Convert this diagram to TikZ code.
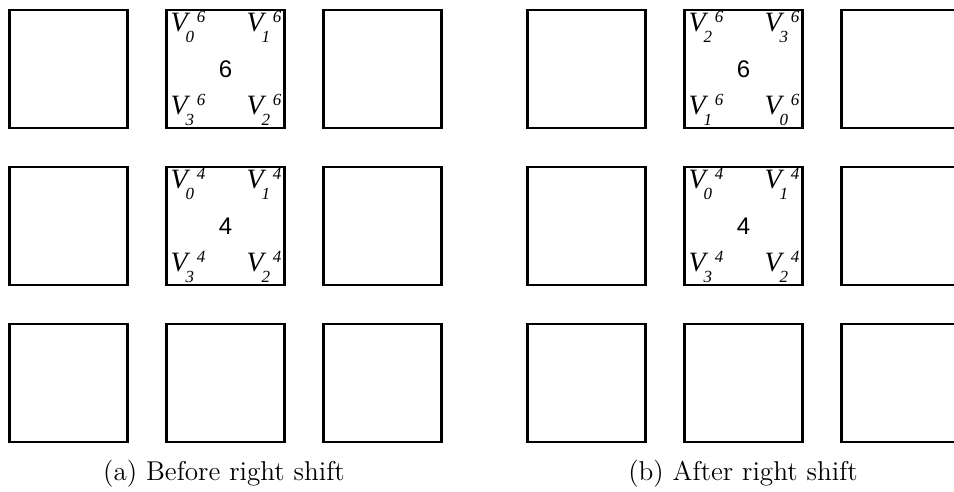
\documentclass[tikz,border=0pt]{standalone}
\usepackage{fontspec}
\newfontfamily\tnr{Liberation Serif}
\newfontfamily\hlv{Liberation Sans}
\usetikzlibrary{positioning}
% V with sub- and superscript, set in Times-like italics
\newcommand{\vidx}[2]{{\fontsize{14}{16}\tnr\itshape V}\hspace{-1pt}%
  \rlap{\raisebox{-5.2pt}{\fontsize{8.5}{10}\tnr\itshape #1}}\hspace{5.6pt}%
  \raisebox{4.8pt}{\fontsize{8.5}{10}\tnr\itshape #2}}

\begin{document}
\begin{tikzpicture}[x=0.5pt, y=-0.5pt,
  cell/.style={rectangle, draw, line width=1.3pt, minimum size=59pt, inner sep=0pt},
  vlab/.style={inner sep=0pt},
  num/.style={font=\fontsize{12}{14}\hlv, inner sep=0pt},
  captxt/.style={font=\fontsize{13.6}{16}\selectfont, anchor=base, inner sep=0pt}]
  \useasboundingbox (0,0) rectangle (954,492);
  % (a) before the shift
  \node[cell] (a1) at (68.5,69) {};
  \node[cell] (a2) at (225.5,69) {};
  \node[cell] (a3) at (382.5,69) {};
  \node[cell] (a4) at (68.5,226) {};
  \node[cell] (a5) at (225.5,226) {};
  \node[cell] (a6) at (382.5,226) {};
  \node[cell] (a7) at (68.5,383) {};
  \node[cell] (a8) at (225.5,383) {};
  \node[cell] (a9) at (382.5,383) {};
  \node[num] (a2n) at (a2.center) {6};
  \node[vlab, anchor=base west, xshift=2.5pt, yshift=-11.5pt] (a2tl) at (a2.north west) {\vidx{0}{6}};
  \node[vlab, anchor=base east, xshift=-2pt, yshift=-11.5pt] (a2tr) at (a2.north east) {\vidx{1}{6}};
  \node[vlab, anchor=base west, xshift=2.5pt, yshift=7.2pt] (a2bl) at (a2.south west) {\vidx{3}{6}};
  \node[vlab, anchor=base east, xshift=-2pt, yshift=7.2pt] (a2br) at (a2.south east) {\vidx{2}{6}};
  \node[num] (a5n) at (a5.center) {4};
  \node[vlab, anchor=base west, xshift=2.5pt, yshift=-11.5pt] (a5tl) at (a5.north west) {\vidx{0}{4}};
  \node[vlab, anchor=base east, xshift=-2pt, yshift=-11.5pt] (a5tr) at (a5.north east) {\vidx{1}{4}};
  \node[vlab, anchor=base west, xshift=2.5pt, yshift=7.2pt] (a5bl) at (a5.south west) {\vidx{3}{4}};
  \node[vlab, anchor=base east, xshift=-2pt, yshift=7.2pt] (a5br) at (a5.south east) {\vidx{2}{4}};
  \node[captxt] (capa) at (224,480) {(a) Before right shift};
  % (b) after the shift
  \node[cell] (b1) at (586.5,69) {};
  \node[cell] (b2) at (743.5,69) {};
  \node[cell] (b3) at (900.5,69) {};
  \node[cell] (b4) at (586.5,226) {};
  \node[cell] (b5) at (743.5,226) {};
  \node[cell] (b6) at (900.5,226) {};
  \node[cell] (b7) at (586.5,383) {};
  \node[cell] (b8) at (743.5,383) {};
  \node[cell] (b9) at (900.5,383) {};
  \node[num] (b2n) at (b2.center) {6};
  \node[vlab, anchor=base west, xshift=2.5pt, yshift=-11.5pt] (b2tl) at (b2.north west) {\vidx{2}{6}};
  \node[vlab, anchor=base east, xshift=-2pt, yshift=-11.5pt] (b2tr) at (b2.north east) {\vidx{3}{6}};
  \node[vlab, anchor=base west, xshift=2.5pt, yshift=7.2pt] (b2bl) at (b2.south west) {\vidx{1}{6}};
  \node[vlab, anchor=base east, xshift=-2pt, yshift=7.2pt] (b2br) at (b2.south east) {\vidx{0}{6}};
  \node[num] (b5n) at (b5.center) {4};
  \node[vlab, anchor=base west, xshift=2.5pt, yshift=-11.5pt] (b5tl) at (b5.north west) {\vidx{0}{4}};
  \node[vlab, anchor=base east, xshift=-2pt, yshift=-11.5pt] (b5tr) at (b5.north east) {\vidx{1}{4}};
  \node[vlab, anchor=base west, xshift=2.5pt, yshift=7.2pt] (b5bl) at (b5.south west) {\vidx{3}{4}};
  \node[vlab, anchor=base east, xshift=-2pt, yshift=7.2pt] (b5br) at (b5.south east) {\vidx{2}{4}};
  \node[captxt] (capb) at (743,480) {(b) After right shift};
\end{tikzpicture}
\end{document}
